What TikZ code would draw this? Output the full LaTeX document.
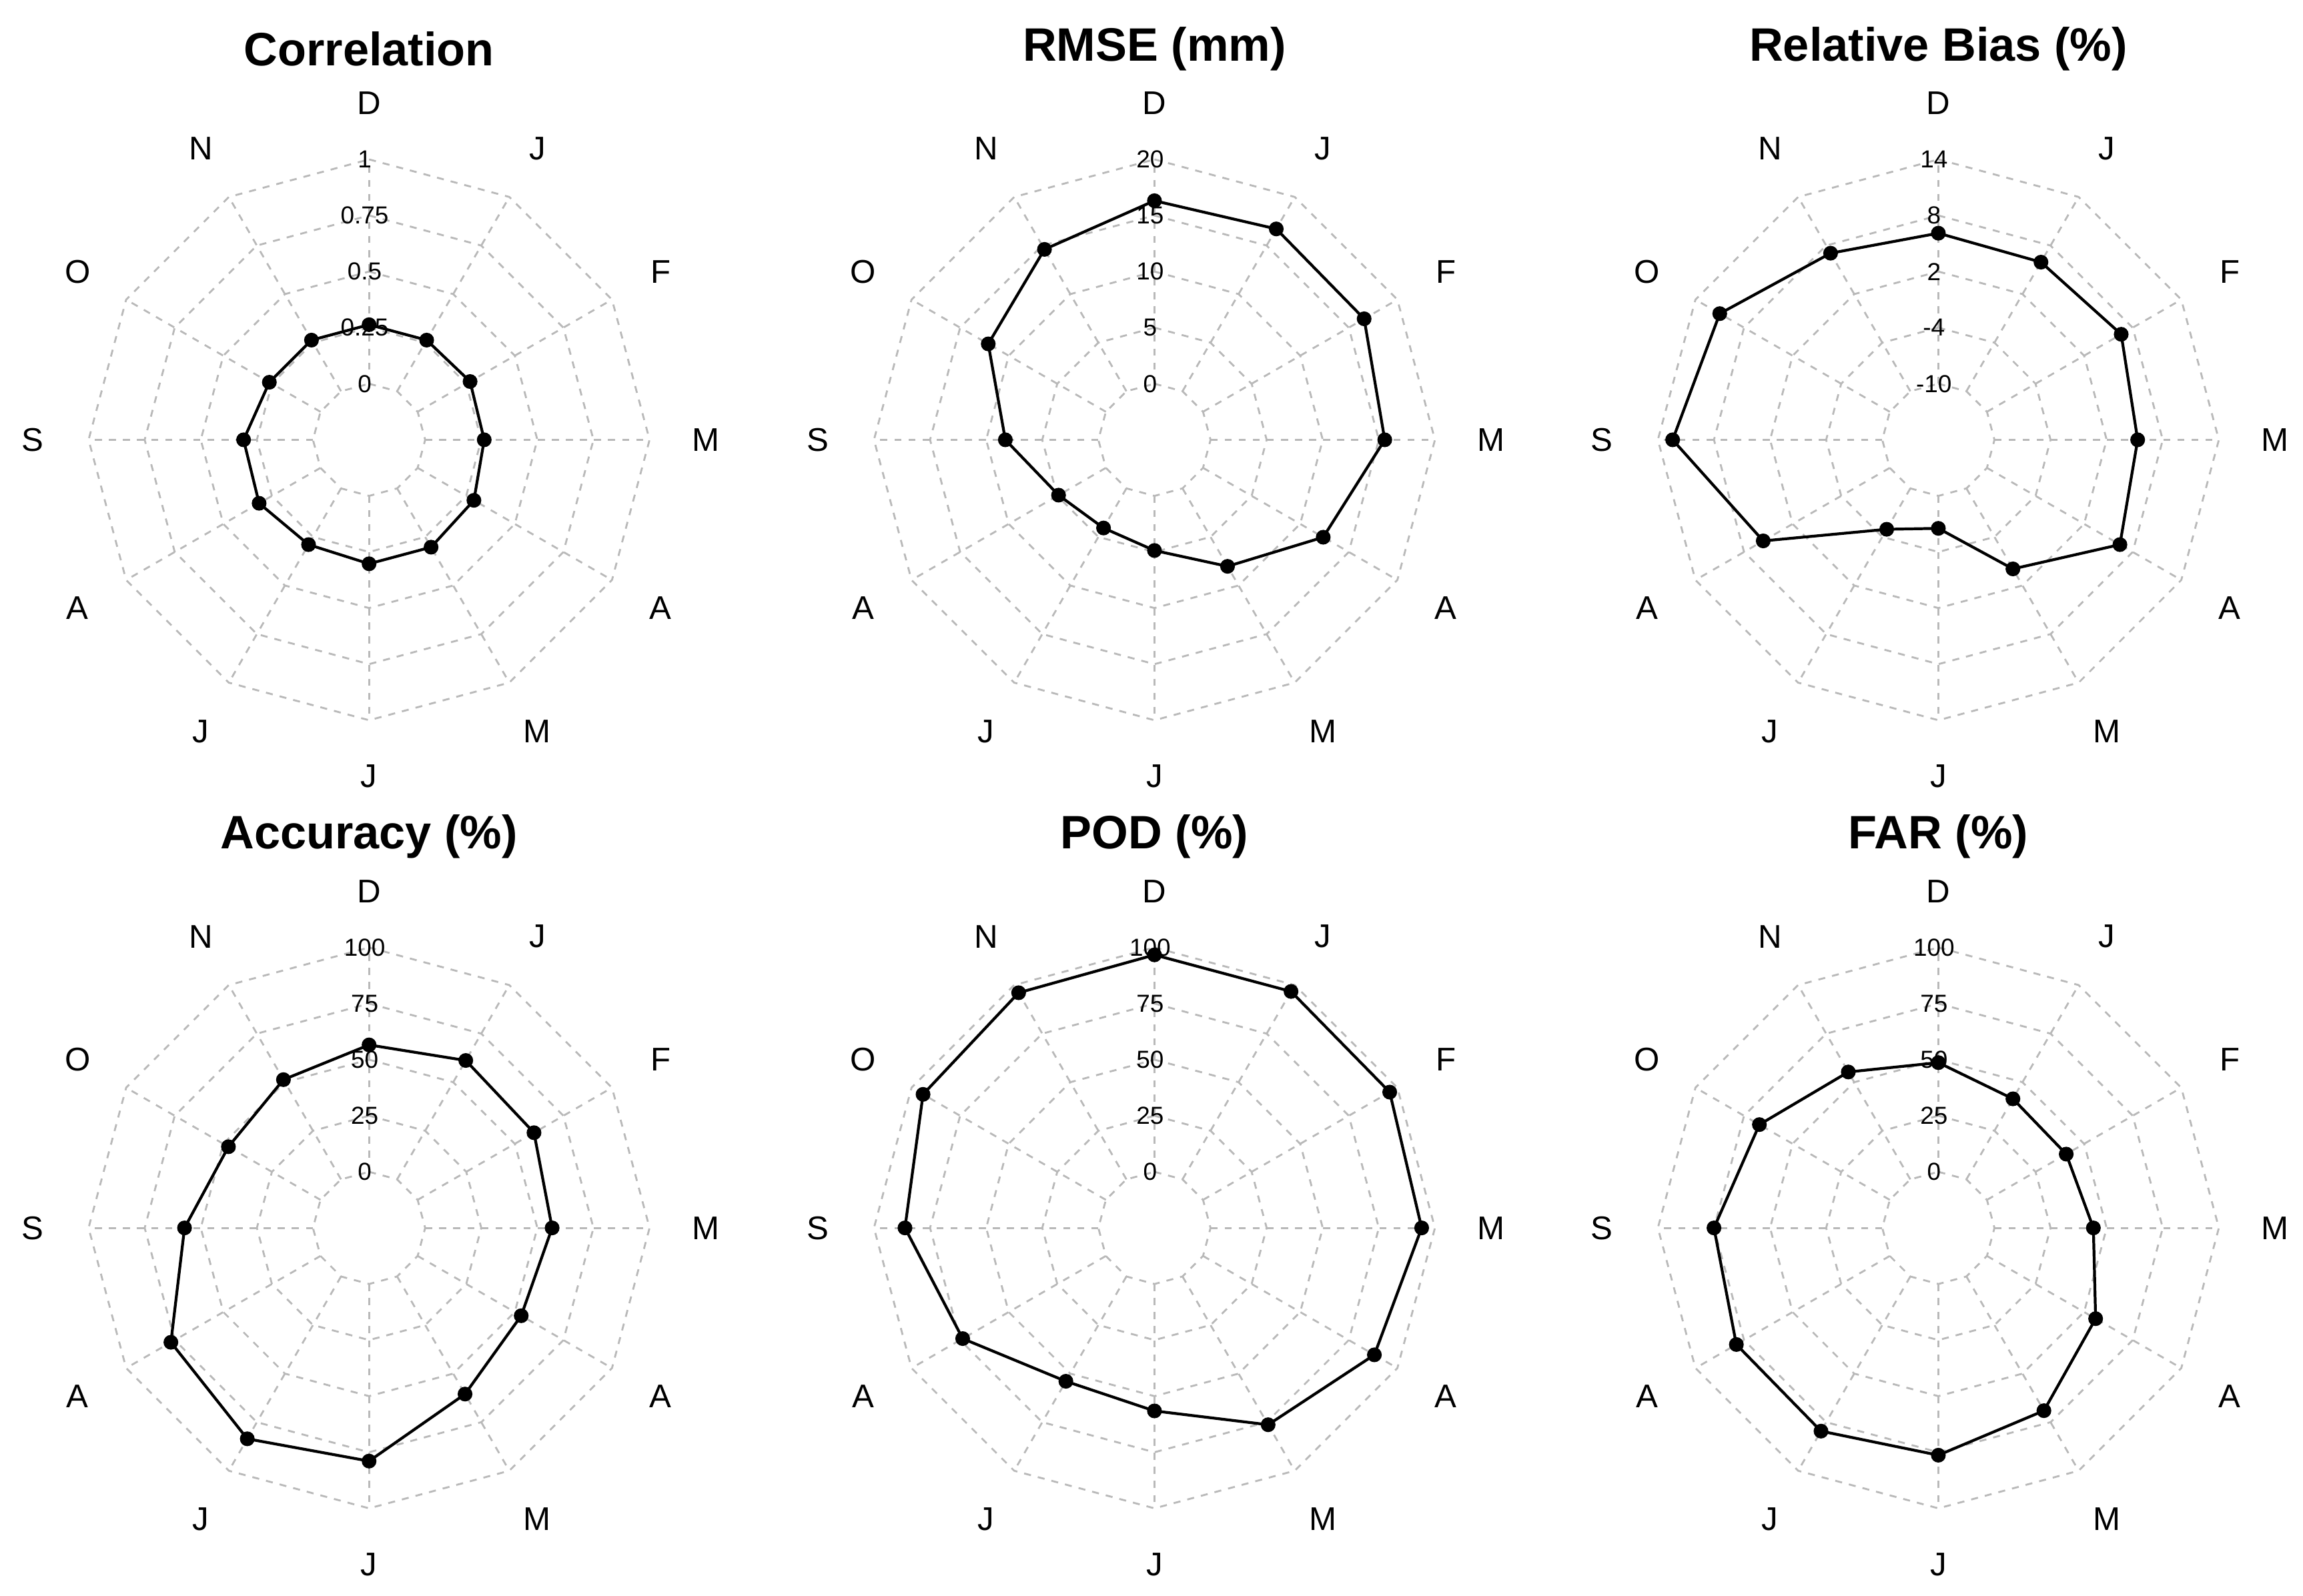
\documentclass[tikz,border=0pt]{standalone}
\usepackage{fontspec}
\setmainfont{Liberation Sans}
\begin{document}
\begin{tikzpicture}[x=0.022128cm,y=-0.022128cm,
  gridl/.style={draw=gray!55,dashed,line width=0.8pt},
  dataline/.style={draw=black,line width=1.2pt,line join=round},
  mlab/.style={font=\fontsize{14}{16}\selectfont},
  tlab/.style={font=\fontsize{10.5}{12}\selectfont,inner sep=0pt},
  ttl/.style={font=\fontsize{20}{24}\selectfont\bfseries}]
\path[use as bounding box] (0,0) rectangle (1560,1081);
\newcommand\myradar[5]{%
\begin{scope}[shift={(#1,#2)}]
  \foreach \r in {38,76,114,152,190}
    \draw[gridl] (-90:\r) \foreach \i in {1,...,11}{ -- (-90+30*\i:\r)} -- cycle;
  \foreach \i in {0,...,11} \draw[gridl] (-90+30*\i:38) -- (-90+30*\i:190);
  \foreach \m [count=\i from 0] in {D,J,F,M,A,M,J,J,A,S,O,N}
    \node[mlab] at (-90+30*\i:228) {\m};
  \foreach \t [count=\i from 0] in {#4}
    \node[tlab] at (-3,-38-38*\i) {\t};
  \foreach \r [count=\i from 0] in {#5}
    \coordinate (p\i) at (-90+30*\i:\r);
  \draw[dataline] (p0)--(p1)--(p2)--(p3)--(p4)--(p5)--(p6)--(p7)--(p8)--(p9)--(p10)--(p11)--cycle;
  \foreach \i in {0,...,11} \fill (p\i) circle (5);
  \node[ttl] at (0,-265) {#3};
\end{scope}}
\myradar{250}{298}{Correlation}{0,0.25,0.5,0.75,1}{78,78,79,78,82,84,84,82,86,85,78,78}
\myradar{782}{298}{RMSE (mm)}{0,5,10,15,20}{162,165,164,156,132,99,75,69,75,101,130,149}
\myradar{1313}{298}{Relative Bias (\%)}{-10,-4,2,8,14}{140,139,143,135,142,101,60,70,137,180,171,146}
\myradar{250}{832}{Accuracy (\%)}{0,25,50,75,100}{124,131,129,124,119,130,158,165,155,125,110,116}
\myradar{782}{832}{POD (\%)}{0,25,50,75,100}{185,185,184,181,172,154,124,120,150,169,181,184}
\myradar{1313}{832}{FAR (\%)}{0,25,50,75,100}{112,101,100,105,123,143,154,159,158,152,140,122}
\end{tikzpicture}
\end{document}
